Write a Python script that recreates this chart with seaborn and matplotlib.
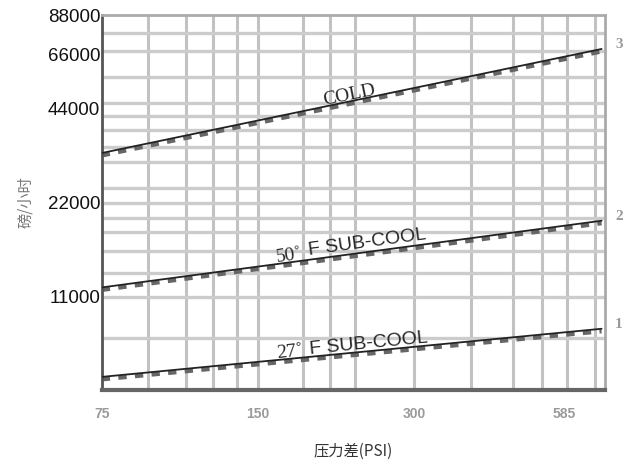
import matplotlib
matplotlib.use("Agg")
import matplotlib.pyplot as plt
import matplotlib.transforms as mtransforms
from matplotlib.ticker import FixedLocator, NullFormatter
import seaborn as sns
import pandas as pd

# data (two end points per line, log-log chart)
psi = [75, 690]
cold = [31800, 68500]
sub50 = [11800, 19300]
sub27 = [6100, 8700]
curve_labels = ["COLD", "50˚F SUB-COOL", "27˚ F SUB-COOL"]
curve_numbers = ["3", "2", "1"]

y_ticks = [11000, 22000, 44000, 66000, 88000]
x_ticks = [75, 150, 300, 585]
x_ticklabels = ["75", "150", "300", "585"]

df = pd.DataFrame({"psi": psi * 3,
                   "flow": cold + sub50 + sub27,
                   "curve": [curve_labels[0]] * 2 + [curve_labels[1]] * 2 + [curve_labels[2]] * 2})

sns.set_theme(style="white")
plt.rcParams['font.family'] = ['Liberation Sans', 'Noto Sans CJK SC', 'DejaVu Sans']

fig = plt.figure(figsize=(6.32, 4.69), dpi=100)
ax = fig.add_axes([0.161, 0.168, 0.796, 0.800])
ax.set_xscale("log")
ax.set_yscale("log")
ax.set_xlim(75, 700)
ax.set_ylim(5530, 88000)

# scanned-looking grid
x_grid = [92, 109, 123, 137, 150, 183, 207, 231, 300, 387, 465, 530, 592, 670]
y_grid = [8150, 11000, 13100, 15400, 17800, 19700, 22000, 24600, 29800, 33200,
          37700, 41800, 46000, 55700, 67500, 77000]
for xv in x_grid:
    ax.axvline(xv, color="#c2c2c2", lw=2.2, zorder=1)
for yv in y_grid:
    ax.axhline(yv, color="#cccccc", lw=2.4, zorder=1)

# shadow (dashed) under each line
shadow = mtransforms.offset_copy(ax.transData, fig=fig, x=0, y=-2.5, units="dots")
for name in curve_labels:
    sub = df[df["curve"] == name]
    ax.plot(sub["psi"], sub["flow"], color="#666666", lw=3, ls=(0, (2, 2)),
            transform=shadow, zorder=2)
sns.lineplot(data=df, x="psi", y="flow", units="curve", estimator=None,
             color="#222222", lw=1.3, ax=ax, zorder=3, legend=False)

ax.yaxis.set_major_locator(FixedLocator(y_ticks))
ax.yaxis.set_minor_locator(FixedLocator([]))
ax.set_yticklabels([str(v) for v in y_ticks], fontsize=13.5, color="#111111")
ax.xaxis.set_major_locator(FixedLocator(x_ticks))
ax.xaxis.set_minor_locator(FixedLocator([]))
ax.xaxis.set_minor_formatter(NullFormatter())
ax.set_xticklabels(x_ticklabels, fontsize=10, color="#9a9a9a", fontweight="bold")
ax.tick_params(axis="y", length=0, pad=1)
ax.tick_params(axis="x", length=4, color="#999999", pad=8)

for side in ["top", "right"]:
    ax.spines[side].set_color("#aaaaaa")
    ax.spines[side].set_linewidth(2)
ax.spines["left"].set_color("#555555")
ax.spines["left"].set_linewidth(2)
ax.spines["bottom"].set_color("#666666")
ax.spines["bottom"].set_linewidth(3)

# curve labels
ax.text(0.493, 0.785, "COLD", transform=ax.transAxes, rotation=11.5, fontsize=14,
        family="Liberation Serif", ha="center", va="center", zorder=4)
ax.text(0.372, 0.359, "50˚", transform=ax.transAxes, rotation=7.7, fontsize=14,
        family="Liberation Serif", ha="center", va="center", zorder=4)
ax.text(0.528, 0.394, "F SUB-COOL", transform=ax.transAxes, rotation=7.7, fontsize=14,
        ha="center", va="center", zorder=4)
ax.text(0.374, 0.101, "27˚", transform=ax.transAxes, rotation=5.6, fontsize=14,
        family="Liberation Serif", ha="center", va="center", zorder=4)
ax.text(0.530, 0.125, "F SUB-COOL", transform=ax.transAxes, rotation=5.6, fontsize=14,
        ha="center", va="center", zorder=4)

for num, ys in zip(curve_numbers, [cold, sub50, sub27]):
    ax.annotate(num, xy=(1.0, ys[1]), xycoords=("axes fraction", "data"),
                xytext=(10, 3), textcoords="offset points", fontsize=11,
                color="#999999", fontweight="bold", family="Liberation Serif",
                ha="center", va="center")

ax.set_ylabel("磅/小时", fontsize=11, color="#777777",
              family=["Noto Sans CJK SC", "DejaVu Sans"], labelpad=10)
ax.set_xlabel("压力差(PSI)", fontsize=11, color="#333333",
              family=["Noto Sans CJK SC", "DejaVu Sans"], labelpad=16)

fig.savefig("out.png", dpi=100)
